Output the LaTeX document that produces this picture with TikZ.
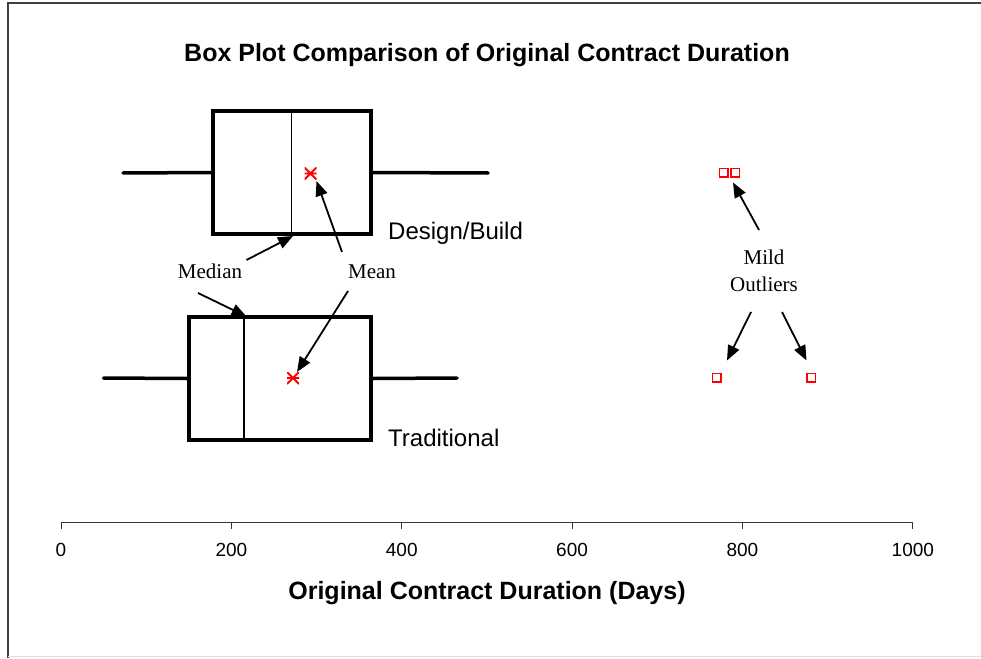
\documentclass[tikz,border=0pt]{standalone}
\usepackage{fontspec}
\setmainfont{Liberation Serif}
\setsansfont{Liberation Sans}
\usetikzlibrary{arrows.meta,positioning,calc}
\definecolor{plotRed}{HTML}{FF0000}
\definecolor{frameGrey}{HTML}{404040}

\begin{document}
\begin{tikzpicture}[x=1pt,y=-1pt,
    box/.style={draw,line width=3.5pt,inner sep=0pt},
    whisk/.style={line width=3.5pt,line cap=round},
    med/.style={line width=1.8pt},
    axisline/.style={line width=1pt,draw=black!80},
    arr/.style={-{Triangle[length=15pt,width=12pt]},line width=1.8pt},
    meanmk/.style={minimum size=12pt,inner sep=0pt,
      path picture={\draw[plotRed,line width=1.8pt]
        (path picture bounding box.north west) -- (path picture bounding box.south east)
        (path picture bounding box.south west) -- (path picture bounding box.north east)
        (path picture bounding box.west) -- (path picture bounding box.east);}},
    outl/.style={draw=plotRed,line width=1.5pt,minimum size=8.5pt,inner sep=0pt},
    grp/.style={font=\sffamily\fontsize{24}{28}\selectfont,anchor=west,inner sep=0pt},
    note/.style={font=\fontsize{21}{27}\selectfont,align=center,inner sep=2pt},
    tick/.style={font=\sffamily\fontsize{19}{22}\selectfont,inner sep=0pt},
    ttl/.style={font=\sffamily\bfseries\fontsize{25}{29}\selectfont,inner sep=0pt}]
  \useasboundingbox (0,0) rectangle (981,658);
  % frame
  \draw[frameGrey,line width=2pt] (7.5,658) -- (7.5,3.5) -- (981,3.5);
  \draw[black!12,line width=1.2pt] (7.5,656.5) -- (981,656.5);
  % titles
  \node[ttl] (title) at (487,55) {Box Plot Comparison of Original Contract Duration};
  \node[ttl] (xlabel) at (487,593) {Original Contract Duration (Days)};
  % axis
  \draw[axisline] (61,522) -- (913,522);
  \foreach \v in {0,200,...,1000} {
    \pgfmathsetmacro\px{61+0.8518*\v}
    \draw[axisline] (\px,522) -- (\px,528.5);
    \node[tick] (t\v) at (\px,550) {\v};
  }
  % design/build
  \node[box,minimum width=158pt,minimum height=123pt] (dbbox) at (292,172.5) {};
  \coordinate (dbmed) at (291.5,173);
  \draw[med] (dbbox.north -| dbmed) -- (dbbox.south -| dbmed);
  \draw[whisk] (123,173) -- (dbbox.west);
  \draw[whisk] (dbbox.east) -- (488,173);
  \node[meanmk] (dbmean) at (310.5,173.5) {};
  \node[grp] (dblbl) at (388,233) {Design/Build};
  % traditional
  \node[box,minimum width=182pt,minimum height=123pt] (trbox) at (280,378.5) {};
  \coordinate (trmed) at (244,378);
  \draw[med] (trbox.north -| trmed) -- (trbox.south -| trmed);
  \draw[whisk] (103.5,378) -- (trbox.west);
  \draw[whisk] (trbox.east) -- (457,378);
  \node[meanmk] (trmean) at (293,378) {};
  \node[grp] (trlbl) at (388,438) {Traditional};
  % outliers
  \node[outl] (o1) at (723.5,172.5) {};
  \node[outl] (o2) at (735,172.5) {};
  \node[outl] (o3) at (716.5,377.5) {};
  \node[outl] (o4) at (811,377.5) {};
  % notes
  \node[note] (medlbl) at (210,271) {Median};
  \node[note] (meanlbl) at (372,272) {Mean};
  \node[note] (mildlbl) at (764,271) {Mild\\Outliers};
  \coordinate (medA) at (246.5,260);
  \coordinate (medB) at (198,293);
  \coordinate (meanA) at (342,252);
  \coordinate (meanB) at (348,291);
  \coordinate (mildA) at (759,230);
  \coordinate (mildB) at (751,312);
  \coordinate (mildC) at (782,312);
  \draw[arr] (medA) -- (293,236);
  \draw[arr] (medB) -- (246.5,316.5);
  \draw[arr] (meanA) -- (316.5,181);
  \draw[arr] (meanB) -- (297,372);
  \draw[arr] (mildA) -- (733,182.5);
  \draw[arr] (mildB) -- (727,360.5);
  \draw[arr] (mildC) -- (806.5,360.5);
\end{tikzpicture}
\end{document}
